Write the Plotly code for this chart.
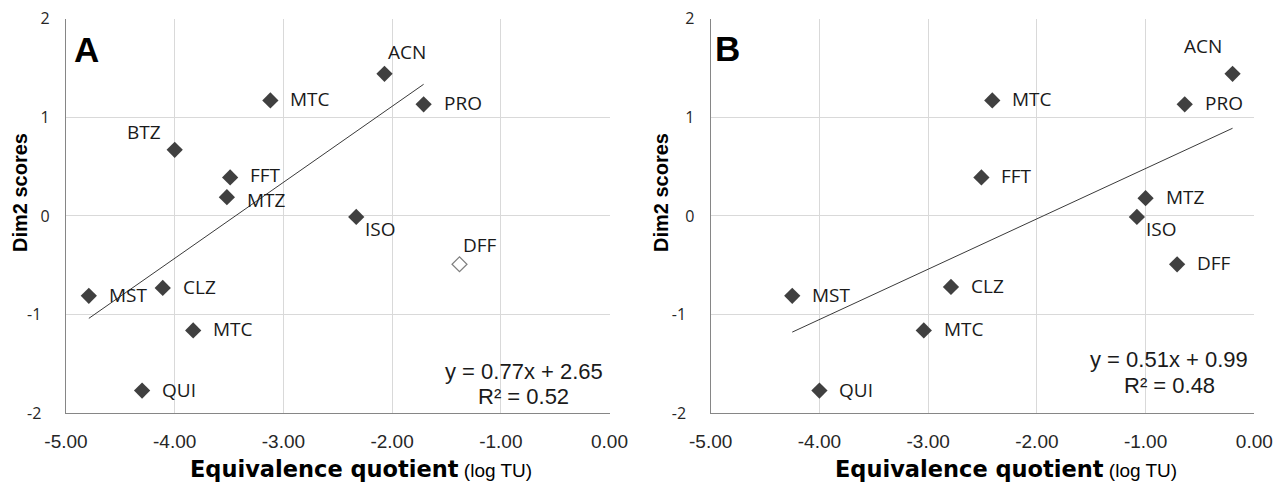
import plotly.graph_objects as go

# ---------------- data ----------------
labels_a = ["MTC", "BTZ", "FFT", "MTZ", "ACN", "PRO", "ISO", "DFF", "MST", "CLZ", "MTC", "QUI"]
x_a = [-3.12, -4.00, -3.49, -3.52, -2.07, -1.71, -2.33, -1.38, -4.79, -4.11, -3.83, -4.30]
y_a = [1.17, 0.67, 0.39, 0.19, 1.44, 1.13, -0.01, -0.49, -0.81, -0.73, -1.16, -1.77]
excluded_a = ["DFF"]          # open marker, not in the regression

labels_b = ["MTC", "ACN", "PRO", "FFT", "MTZ", "ISO", "DFF", "CLZ", "MTC", "MST", "QUI"]
x_b = [-2.41, -0.20, -0.64, -2.51, -1.00, -1.08, -0.71, -2.79, -3.04, -4.25, -4.00]
y_b = [1.17, 1.44, 1.13, 0.39, 0.18, -0.01, -0.49, -0.72, -1.16, -0.81, -1.77]
excluded_b = []

slope = [0.77, 0.51]
intercept = [2.65, 0.99]
r2 = [0.52, 0.48]
panel_letters = ["A", "B"]

x_ticks = [-5, -4, -3, -2, -1, 0]
y_ticks = [-2, -1, 0, 1, 2]

# ---------------- styling ----------------
W, H = 1288, 488
MARK = "#404040"
GRID = "#d9d9d9"
AXIS = "#868686"
TXT = "#1a1a1a"

# label placement (style only): index -> (xanchor, xshift, yshift)
default_off = ("left", 18, 1)
label_off_a = {1: ("right", -12, 18), 2: ("left", 18, 2), 3: ("left", 18, -3),
               4: ("center", 23, 22), 6: ("left", 7, -12), 7: ("left", 2, 19)}
label_off_b = {1: ("right", -9, 28), 5: ("left", 7, -12)}

dom_x = [[66 / W, 609.5 / W], [710.7 / W, 1254.3 / W]]
dom_y = [(H - 413.3) / H, (H - 18.5) / H]

fig = go.Figure()

panels = [
    (labels_a, x_a, y_a, excluded_a, label_off_a),
    (labels_b, x_b, y_b, excluded_b, label_off_b),
]

annotations = []
for i, (labs, xs, ys, excl, offs) in enumerate(panels):
    xa = "x" if i == 0 else "x2"
    ya = "y" if i == 0 else "y2"
    filled = [k for k, l in enumerate(labs) if l not in excl]
    hollow = [k for k, l in enumerate(labs) if l in excl]
    # trend line over range of regression points
    fx = [xs[k] for k in filled]
    x0, x1 = min(fx), max(fx)
    fig.add_trace(go.Scatter(
        x=[x0, x1], y=[slope[i] * x0 + intercept[i], slope[i] * x1 + intercept[i]],
        mode="lines", line=dict(color="#3a3a3a", width=1), xaxis=xa, yaxis=ya,
        showlegend=False, hoverinfo="skip"))
    fig.add_trace(go.Scatter(
        x=[xs[k] for k in filled], y=[ys[k] for k in filled], mode="markers",
        marker=dict(symbol="diamond", size=12.5, color=MARK, line=dict(width=0)),
        xaxis=xa, yaxis=ya, showlegend=False))
    if hollow:
        fig.add_trace(go.Scatter(
            x=[xs[k] for k in hollow], y=[ys[k] for k in hollow], mode="markers",
            marker=dict(symbol="diamond-open", size=11.5, color="#7f7f7f", line=dict(width=1.2)),
            xaxis=xa, yaxis=ya, showlegend=False))
    for k, l in enumerate(labs):
        anc, xsh, ysh = offs.get(k, default_off)
        annotations.append(dict(
            x=xs[k], y=ys[k], xref=xa, yref=ya, text=l, showarrow=False,
            xanchor=anc, yanchor="middle", xshift=xsh, yshift=ysh,
            font=dict(family="Open Sans", size=19, color=TXT)))

# equation boxes (two lines each)
eq_x = [523.7, 1169.2]
eq_y = [(371.7, 396.7), (360.0, 385.0)]
for i in range(2):
    lines = [f"y = {slope[i]:.2f}x + {intercept[i]:.2f}", f"R² = {r2[i]:.2f}"]
    for j in range(2):
        annotations.append(dict(
            x=eq_x[i] / W, y=(H - eq_y[i][j]) / H, xref="paper", yref="paper",
            text=lines[j], showarrow=False, xanchor="center", yanchor="middle",
            font=dict(family="Liberation Sans", size=22, color=TXT)))

# panel letters
letter_pos = [(86.7, 49.5), (727.5, 49.0)]
for i in range(2):
    cx, cy = letter_pos[i]
    annotations.append(dict(
        x=cx / W, y=(H - cy) / H, xref="paper", yref="paper",
        text=f"<b>{panel_letters[i]}</b>", showarrow=False,
        xanchor="center", yanchor="middle",
        font=dict(family="Liberation Sans", size=35, color="#000000")))

# axis titles
xt_left = [188, 833]
yt_x = [20, 661]
x_title = ("<b>Equivalence quotient</b><span style=\"font-family:'Liberation Sans',"
           "Arial,sans-serif;font-size:19px\"> (log TU)</span>")
for i in range(2):
    annotations.append(dict(
        x=xt_left[i] / W, y=(H - 469) / H, xref="paper", yref="paper",
        text=x_title, showarrow=False,
        xanchor="left", yanchor="middle",
        font=dict(family="DejaVu Sans", size=22.5, color="#000000")))
    annotations.append(dict(
        x=yt_x[i] / W, y=(H - 193) / H, xref="paper", yref="paper",
        text="<b>Dim2 scores</b>", showarrow=False, textangle=-90,
        xanchor="center", yanchor="middle",
        font=dict(family="Liberation Sans", size=20, color="#000000")))

y_text = [(f"{v}\u00a0\u00a0" if v < 0 else f"{v}") for v in y_ticks]
x_text = [f"{v:.2f}".replace("\u2212", "-") for v in x_ticks]

def xaxis_cfg(i):
    return dict(
        domain=dom_x[i], range=[-5, 0], anchor="y" if i == 0 else "y2",
        tickvals=x_ticks, ticktext=x_text, showgrid=True, gridcolor=GRID, gridwidth=1,
        zeroline=False, showline=True, linecolor=AXIS, linewidth=1.3, ticks="",
        ticklabelstandoff=11, automargin=False,
        tickfont=dict(family="Liberation Sans", size=19, color="#262626"), fixedrange=True)

def yaxis_cfg(i):
    return dict(
        domain=dom_y, range=[-2, 2], anchor="x" if i == 0 else "x2",
        tickvals=y_ticks, ticktext=y_text, showgrid=True, gridcolor=GRID, gridwidth=1,
        zeroline=False, showline=True, linecolor=AXIS, linewidth=1.3, ticks="",
        ticklabelstandoff=12, automargin=False,
        tickfont=dict(family="Open Sans", size=16, color="#262626"), fixedrange=True)

fig.update_layout(
    width=W, height=H, margin=dict(l=0, r=0, t=0, b=0, autoexpand=False),
    paper_bgcolor="white", plot_bgcolor="white", showlegend=False,
    xaxis=xaxis_cfg(0), yaxis=yaxis_cfg(0),
    xaxis2=xaxis_cfg(1), yaxis2=yaxis_cfg(1),
    annotations=annotations,
)

fig.write_html("out.html")
